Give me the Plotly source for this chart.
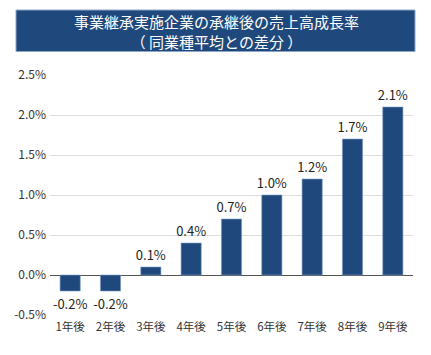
import plotly.graph_objects as go

categories = ["1年後", "2年後", "3年後", "4年後", "5年後", "6年後", "7年後", "8年後", "9年後"]
values = [-0.2, -0.2, 0.1, 0.4, 0.7, 1.0, 1.2, 1.7, 2.1]
labels = ["-0.2%", "-0.2%", "0.1%", "0.4%", "0.7%", "1.0%", "1.2%", "1.7%", "2.1%"]
tick_vals = [-0.5, 0.0, 0.5, 1.0, 1.5, 2.0, 2.5]
tick_text = ["-0.5%", "0.0%", "0.5%", "1.0%", "1.5%", "2.0%", "2.5%"]
title_text = "事業継承実施企業の承継後の売上高成長率<br>（ 同業種平均との差分 ）"

FONT = "Noto Sans CJK JP, Noto Sans, sans-serif"
BAR = "#1f497d"

# page has an 8px body margin; figure coords = page coords - 8
W, H = 423, 347
L, R, T, B = 42, 18, 67, 40
PW, PH = W - L - R, H - T - B


def px(x):
    return (x - L) / PW


def py(y):
    return (H - B - y) / PH


fig = go.Figure(go.Bar(
    x=categories, y=values,
    text=labels, textposition="outside", constraintext="none",
    textfont=dict(size=13, color="#222222", family=FONT),
    marker=dict(color=BAR, line=dict(color="#7d9bc6", width=0.6)),
    width=0.5, cliponaxis=False,
))

fig.update_layout(
    width=W, height=H,
    margin=dict(l=L, r=R, t=T, b=B, autoexpand=False),
    paper_bgcolor="white", plot_bgcolor="white",
    showlegend=False,
    font=dict(family=FONT, color="#333333"),
    xaxis=dict(showgrid=False, ticks="", tickfont=dict(size=11.5, color="#333333"),
               showline=False, ticklabelstandoff=3),
    yaxis=dict(range=[-0.5, 2.5], tickvals=tick_vals, ticktext=tick_text,
               showgrid=True, gridcolor="#dddddd", gridwidth=1,
               zeroline=True, zerolinecolor="#555555", zerolinewidth=1.2,
               tickfont=dict(size=12, color="#333333"), ticks="", ticklabelstandoff=3),
    shapes=[dict(type="rect", xref="paper", yref="paper",
                 x0=px(8), x1=px(407), y0=py(43.5), y1=py(2),
                 fillcolor=BAR, line=dict(color="#8ea6c8", width=1), layer="above")],
    annotations=[dict(xref="paper", yref="paper", x=px(208), y=py(23),
                      text=title_text, showarrow=False, align="center",
                      font=dict(size=15, color="white", family=FONT),
                      xanchor="center", yanchor="middle")],
)

fig.write_html("out.html")
